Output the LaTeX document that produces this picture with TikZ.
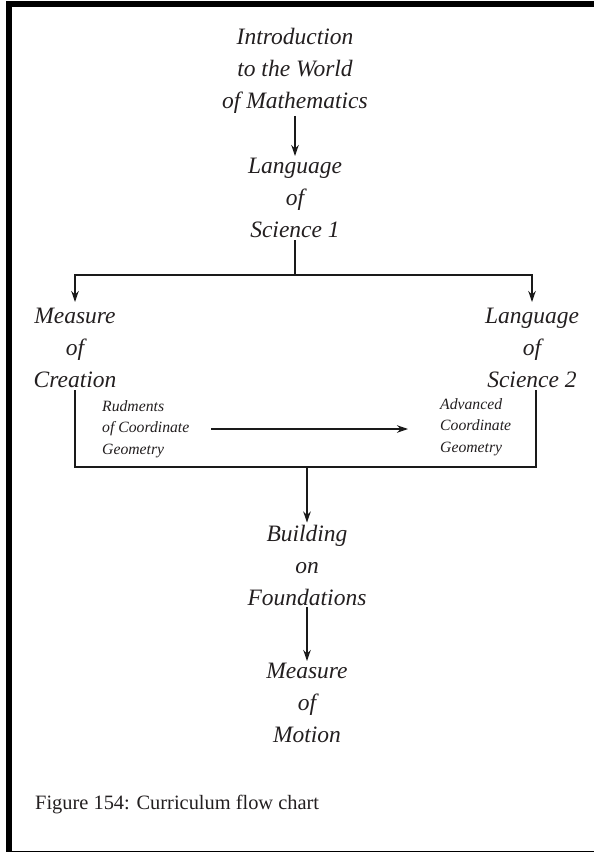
\documentclass[tikz,border=0pt]{standalone}
\usepackage{fontspec}
\setmainfont{Liberation Serif}
\usetikzlibrary{arrows.meta}
\definecolor{flowInk}{HTML}{231F20}
\definecolor{flowLine}{HTML}{1A1A1A}
\tikzset{
  every node/.style={text=flowInk, inner sep=2pt},
  topic/.style={
    font=\fontsize{23.5}{32}\selectfont\itshape,
    align=center
  },
  subtopic/.style={
    font=\fontsize{15.7}{21.5}\selectfont\itshape,
    align=left,
    anchor=west
  },
  caption/.style={
    font=\fontsize{20.4}{24}\selectfont,
    anchor=west
  },
  link/.style={
    line width=1.2pt,
    draw=flowLine
  },
  flow/.style={
    link,
    -{Stealth[length=11pt,width=7.5pt]}
  }
}

\begin{document}
\begin{tikzpicture}[x=1pt,y=-1pt]
  \useasboundingbox (0,0) rectangle (594,852);
  % page frame
  \fill[black] (6,1) rectangle (594,7);
  \fill[black] (6,1) rectangle (12,852);
  \draw[black, line width=1pt] (12,851) -- (594,851);

  \node[topic] (intro) at (295,71) {Introduction\\to the World\\of Mathematics};
  \node[topic] (ls1) at (295,198) {Language\\of\\Science 1};
  \node[topic] (mc) at (75,348) {Measure\\of\\Creation};
  \node[topic] (ls2) at (532,348) {Language\\of\\Science 2};
  \node[subtopic] (rcg) at (100,429) {Rudments\\of Coordinate\\Geometry};
  \node[subtopic] (acg) at (438,427) {Advanced\\Coordinate\\Geometry};
  \node[topic] (bf) at (307,565) {Building\\on\\Foundations};
  \node[topic] (mm) at (307,703) {Measure\\of\\Motion};
  \node[caption] (cap) at (33,805) {Figure 154: Curriculum flow chart};

  \coordinate (split) at (295,275);
  \coordinate (merge) at (307,467);

  \draw[flow] (intro) -- (ls1);
  \draw[link] (ls1.south) -- (split);
  \draw[flow, shorten >=4pt] (split) -| (mc.north);
  \draw[flow, shorten >=4pt] (split) -| (ls2.north);
  \draw[flow, shorten <=20pt, shorten >=30pt] (rcg.east) -- (rcg.east -| acg.west);
  \draw[link] (mc.south) |- (merge) -| ([xshift=4pt]ls2.south);
  \draw[flow] (merge) -- (bf);
  \draw[flow] (bf) -- (mm);
\end{tikzpicture}
\end{document}
